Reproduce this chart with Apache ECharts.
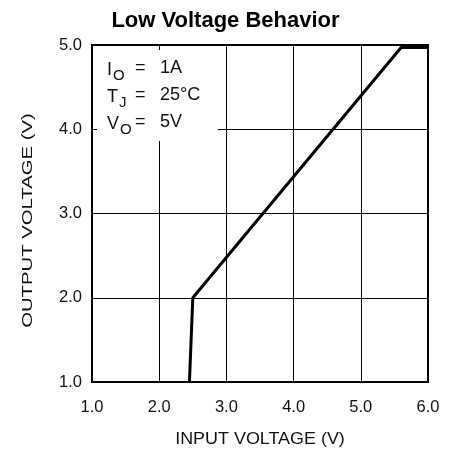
<!DOCTYPE html>
<html><head><meta charset="utf-8">
<script src="https://cdn.jsdelivr.net/npm/echarts@6/dist/echarts.min.js"></script>
<style>html,body{margin:0;padding:0;background:#fff}#c{width:451px;height:457px}</style>
</head><body><div id="c"></div>
<script>
const inputVoltage = [2.45, 2.5, 5.6, 6.0];
const outputVoltage = [1.0, 2.0, 4.97, 4.97];
const xTicks = ['1.0', '2.0', '3.0', '4.0', '5.0', '6.0'];
const yTicks = ['1.0', '2.0', '3.0', '4.0', '5.0'];
const conditionSymbols = ['I', 'T', 'V'];
const conditionSubs = ['O', 'J', 'O'];
const conditionValues = ['1A', '25°C', '5V'];

const FONT = 'Liberation Sans';
const chart = echarts.init(document.getElementById('c'), null, {renderer: 'canvas'});
const pairs = inputVoltage.map((x, i) => [x, outputVoltage[i]]);

chart.setOption({
  animation: false,
  backgroundColor: '#fff',
  title: {
    text: 'Low Voltage Behavior', left: 'center', top: 5,
    textStyle: {fontFamily: FONT, fontWeight: 'bold', fontSize: 22, color: '#000'}
  },
  grid: {left: 92, top: 45, right: 23, bottom: 75, show: true, borderColor: '#000', borderWidth: 2, backgroundColor: 'transparent'},
  xAxis: {
    type: 'value', min: 1, max: 6, interval: 1,
    axisLine: {show: true, lineStyle: {color: '#000', width: 2}},
    axisTick: {show: false},
    axisLabel: {margin: 17, fontFamily: FONT, fontSize: 16.5, color: '#111',
      formatter: v => xTicks[Math.round(v - 1)]},
    splitLine: {show: true, lineStyle: {color: '#000', width: 1}}
  },
  yAxis: {
    type: 'value', min: 1, max: 5, interval: 1,
    axisLine: {show: true, lineStyle: {color: '#000', width: 2}},
    axisTick: {show: false},
    axisLabel: {margin: 10, fontFamily: FONT, fontSize: 16.5, color: '#111',
      formatter: v => yTicks[Math.round(v - 1)]},
    splitLine: {show: true, lineStyle: {color: '#000', width: 1}}
  },
  series: [{
    type: 'line', data: pairs, symbol: 'none', z: 5,
    lineStyle: {color: '#000', width: 3}
  }]
});

const tl = chart.convertToPixel({gridIndex: 0}, [1, 5]);
const br = chart.convertToPixel({gridIndex: 0}, [6, 1]);
const g = [];
g.push({type: 'rect', z: 1, shape: {x: tl[0] + 5, y: tl[1] + 5, width: 121, height: 91}, style: {fill: '#fff'}});
conditionSymbols.forEach((s, i) => {
  const y = tl[1] + 13 + i * 27;
  g.push({type: 'text', z: 2, x: tl[0] + 15, y: y, style: {
    text: '{m|' + s + '}{s|' + conditionSubs[i] + '}',
    rich: {m: {fontFamily: FONT, fontSize: 18, fill: '#111'},
           s: {fontFamily: FONT, fontSize: 15, fill: '#111', padding: [10, 0, 0, 1]}}
  }});
  g.push({type: 'text', z: 2, x: tl[0] + 43, y: y + 1, style: {text: '=', fontFamily: FONT, fontSize: 18, fill: '#111'}});
  g.push({type: 'text', z: 2, x: tl[0] + 68, y: y + 1, style: {text: conditionValues[i], fontFamily: FONT, fontSize: 18, fill: '#111'}});
});
const yc = chart.convertToPixel({gridIndex: 0}, [1, 3]);
g.push({type: 'text', z: 2, x: 28, y: yc[1] + 7, rotation: Math.PI / 2, scaleX: 1.45,
  style: {text: 'OUTPUT VOLTAGE (V)', fontFamily: FONT, fontSize: 14, fill: '#111', align: 'center', verticalAlign: 'middle'}});
g.push({type: 'text', z: 2, x: (tl[0] + br[0]) / 2, y: br[1] + 58, scaleX: 1.12,
  style: {text: 'INPUT VOLTAGE (V)', fontFamily: FONT, fontSize: 16, fill: '#111', align: 'center', verticalAlign: 'middle'}});
chart.setOption({graphic: g});
</script></body></html>
